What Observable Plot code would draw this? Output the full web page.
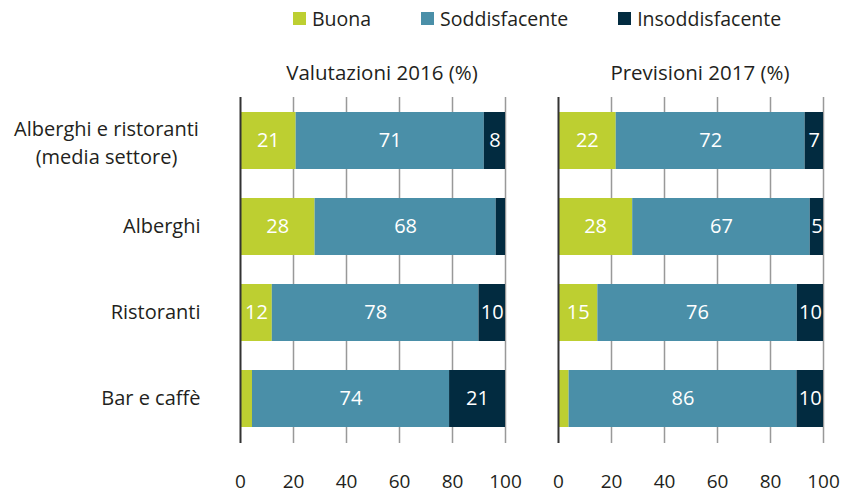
<!DOCTYPE html>
<html><head><meta charset="utf-8">
<script src="https://cdn.jsdelivr.net/npm/d3@7"></script>
<script src="https://cdn.jsdelivr.net/npm/@observablehq/plot@0.6"></script>
<style>
body{margin:0;background:#fff;font-family:"Open Sans",sans-serif;color:#231f20}
#legend{height:36px;display:flex;align-items:center;padding-left:293px;gap:50px;font-size:19.5px;box-sizing:border-box}
.item{display:flex;align-items:center}
.sw{width:13px;height:13px;margin-right:6px}
</style></head><body>
<div id="legend"></div><div id="chart"></div>
<script>
const panels = ["Valutazioni 2016 (%)", "Previsioni 2017 (%)"];
const categories = ["Alberghi e ristoranti\n(media settore)", "Alberghi", "Ristoranti", "Bar e caffè"];
const series = ["Buona", "Soddisfacente", "Insoddisfacente"];
const colors = ["#bdcf31", "#4a8fa8", "#022b40"];
const buona2016 = [21, 28, 12, 4.5];
const sodd2016 = [71, 68, 78, 74];
const insodd2016 = [8, 3.5, 10, 21];
const buona2017 = [22, 28, 15, 4];
const sodd2017 = [72, 67, 76, 86];
const insodd2017 = [7, 5, 10, 10];
const xTicks = [0, 0.2, 0.4, 0.6, 0.8, 1];

const values = [[buona2016, sodd2016, insodd2016], [buona2017, sodd2017, insodd2017]];
const data = [];
panels.forEach((p, pi) => categories.forEach((c, ci) => series.forEach((s, si) =>
  data.push({panel: p, category: c, series: s, value: values[pi][si][ci]}))));

const legend = document.getElementById("legend");
series.forEach((s, i) => {
  const it = document.createElement("div"); it.className = "item";
  const sw = document.createElement("span"); sw.className = "sw"; sw.style.background = colors[i];
  const t = document.createElement("span"); t.textContent = s;
  it.appendChild(sw); it.appendChild(t); legend.appendChild(it);
});

const stackOpts = {offset: "normalize", x: "value", y: "category", fx: "panel"};
const plot = Plot.plot({
  width: 842, height: 459,
  marginTop: 61, marginBottom: 52, marginLeft: 240, marginRight: 18,
  style: {fontFamily: "Open Sans", fontSize: "19px", color: "#231f20", background: "#fff"},
  fx: {domain: panels, padding: 0.166, label: null},
  x: {domain: [0, 1], label: null},
  y: {domain: categories, paddingInner: 0.334, paddingOuter: 0.165, label: null},
  color: {domain: series, range: colors},
  marks: [
    Plot.gridX(xTicks.slice(1), {stroke: "#999", strokeOpacity: 1, strokeWidth: 1.5}),
    Plot.barX(data, Plot.stackX({...stackOpts, fill: "series", order: series})),
    Plot.ruleX([0], {stroke: "#333", strokeWidth: 2}),
    Plot.textX(data, Plot.stackX({...stackOpts, z: "series", order: series,
      text: d => d.value >= 5 ? String(d.value) : "", fill: "white", fontSize: 20})),
    Plot.axisX({ticks: xTicks, tickSize: 0, tickPadding: 31, fontSize: 19,
      tickFormat: d => Math.round(d * 100), label: null}),
    Plot.axisY({tickSize: 0, tickPadding: 40, fontSize: 20, label: null,
      tickFormat: d => d === categories[0] ? "" : d}),
    Plot.text([categories[0]], {y: d => d, fx: () => panels[0], text: d => d,
      frameAnchor: "left", dx: -134, textAnchor: "middle", lineHeight: 1.4,
      fontSize: 20, fill: "#231f20"}),
    Plot.axisFx({anchor: "top", tickSize: 0, tickPadding: 18, fontSize: 20.5, dx: 9, label: null})
  ]
});
document.getElementById("chart").appendChild(plot);
</script>
</body></html>
